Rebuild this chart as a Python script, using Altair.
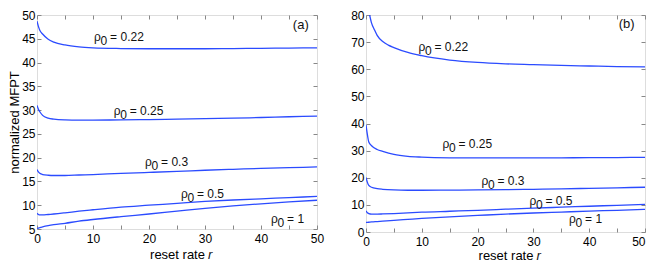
import altair as alt
import pandas as pd

# ---------------- data ----------------
R = [0, 0.25, 0.5, 1, 2, 3, 5, 7.5, 10, 15, 20, 25, 30, 35, 40, 45, 50]

# panel (a)
a_022 = [48.7, 47.6, 46.8, 46.0, 44.9, 44.3, 43.7, 43.3, 43.1, 42.95, 42.9, 42.9, 42.9, 42.95, 43.0, 43.05, 43.1]
a_025 = [31.0, 30.2, 29.65, 28.9, 28.3, 28.1, 27.95, 27.9, 27.9, 27.95, 28.0, 28.1, 28.2, 28.3, 28.45, 28.6, 28.75]
a_03 = [17.5, 17.0, 16.7, 16.45, 16.3, 16.25, 16.25, 16.35, 16.45, 16.7, 16.9, 17.1, 17.35, 17.55, 17.75, 17.9, 18.05]
a_05 = [8.3, 8.05, 7.95, 7.95, 8.05, 8.15, 8.4, 8.75, 9.05, 9.6, 10.0, 10.4, 10.8, 11.1, 11.35, 11.6, 11.85]
a_1 = [5.1, 5.2, 5.3, 5.45, 5.7, 5.9, 6.2, 6.65, 7.0, 7.6, 8.15, 8.75, 9.35, 9.85, 10.3, 10.7, 11.05]

# panel (b)
R_B022 = [0.65, 1, 1.5, 2, 3, 4, 5, 7.5, 10, 15, 20, 25, 30, 35, 40, 45, 50]
b_022 = [80, 77, 74.6, 72.5, 70.2, 68.9, 68.0, 66.2, 65.0, 63.4, 62.5, 62.0, 61.7, 61.4, 61.2, 61.0, 60.85]
b_025 = [39.5, 35.9, 33.2, 31.8, 30.4, 29.7, 28.6, 27.9, 27.6, 27.35, 27.3, 27.3, 27.3, 27.35, 27.4, 27.45, 27.5]
b_03 = [20.1, 18.3, 17.2, 16.5, 16.0, 15.75, 15.5, 15.4, 15.4, 15.45, 15.5, 15.6, 15.75, 15.9, 16.1, 16.3, 16.5]
b_05 = [7.8, 7.1, 6.8, 6.6, 6.6, 6.65, 6.8, 7.05, 7.3, 7.65, 8.0, 8.4, 8.8, 9.15, 9.5, 9.85, 10.2]
b_1 = [3.5, 3.55, 3.6, 3.7, 3.85, 4.0, 4.3, 4.65, 5.0, 5.6, 6.1, 6.6, 7.0, 7.35, 7.7, 8.0, 8.35]

RHO = ["0.22", "0.25", "0.3", "0.5", "1"]
lab_a_r = [10.2, 13.7, 19.3, 25.7, 41.8]
lab_a_v = [45.3, 29.8, 19.15, 12.4, 7.2]
lab_b_r = [9.4, 13.7, 20.7, 29.3, 36.4]
lab_b_v = [68.2, 32.5, 18.9, 11.6, 4.7]

X_TICKS = [0, 5, 10, 15, 20, 25, 30, 35, 40, 45, 50]
YA_TICKS = [5, 10, 15, 20, 25, 30, 35, 40, 45, 50]
YB_TICKS = [0, 10, 20, 30, 40, 50, 60, 70, 80]

TAGS = ["(a)", "(b)"]
tag_r = [47.1, 46.7]
tag_v = [47.8, 76.7]

X_TITLE = "reset rate"
X_TITLE_VAR = ["r"]

# ---------------- build tables ----------------
def lines_table(rs_list, vs_list):
    rows = []
    for rho, rs, vs in zip(RHO, rs_list, vs_list):
        for r, v in zip(rs, vs):
            rows.append({"r": r, "v": v, "rho": rho})
    return pd.DataFrame(rows)

df_a = lines_table([R] * 5, [a_022, a_025, a_03, a_05, a_1])
df_b = lines_table([R_B022, R, R, R, R], [b_022, b_025, b_03, b_05, b_1])

lab_a = pd.DataFrame({"r": lab_a_r, "v": lab_a_v, "rho": RHO,
                      "rest": ["= " + s for s in RHO]})
lab_b = pd.DataFrame({"r": lab_b_r, "v": lab_b_v, "rho": RHO,
                      "rest": ["= " + s for s in RHO]})

FONT = "Liberation Sans"
BLUE = "#2b4bff"
TICK = 4


def panel(df, lab, tag_i, ydom, yticks, ytitle, w, h, x_title_pad, flush_last, r_dy):
    xs = alt.Scale(domain=[0, 50], nice=False, zero=False)
    ys = alt.Scale(domain=ydom, nice=False, zero=False)
    x_kw = dict(values=X_TICKS,
                labelExpr="datum.value % 10 == 0 ? datum.label : ''",
                offset=-TICK, tickSize=TICK, domain=False, grid=False,
                labelFlush=False, labelPadding=4, labelFontSize=12,
                title=X_TITLE, titleFontSize=13, titlePadding=x_title_pad,
                titleFontWeight="normal")
    if flush_last:
        x_kw["labelAlign"] = alt.expr("datum.value == 50 ? 'right' : 'center'")
    xaxis = alt.Axis(**x_kw)
    yaxis_kw = dict(values=yticks, offset=-TICK, tickSize=TICK, domain=False,
                    grid=False, labelPadding=2, labelFontSize=12,
                    titleFontSize=13, titlePadding=0, titleFontWeight="normal")
    if ytitle:
        yaxis = alt.Axis(title=ytitle, **yaxis_kw)
    else:
        yaxis = alt.Axis(title=None, **yaxis_kw)
    top_axis = alt.Axis(orient="top", values=X_TICKS, offset=-TICK, tickSize=TICK,
                        domain=False, grid=False, labels=False, title=None)
    right_axis = alt.Axis(orient="right", values=yticks, offset=-TICK, tickSize=TICK,
                          domain=False, grid=False, labels=False, title=None)

    lines = alt.Chart(df).mark_line(
        interpolate="monotone", clip=True, strokeWidth=1.3, color=BLUE
    ).encode(
        x=alt.X("r:Q", scale=xs, axis=xaxis),
        y=alt.Y("v:Q", scale=ys, axis=yaxis),
        detail="rho:N",
    )
    ghost = alt.Chart(df).mark_line(strokeOpacity=0, clip=True).encode(
        x=alt.X("r:Q", scale=xs, axis=top_axis),
        y=alt.Y("v:Q", scale=ys, axis=right_axis),
        detail="rho:N",
    )
    enc = dict(x=alt.X("r:Q", scale=xs, axis=None),
               y=alt.Y("v:Q", scale=ys, axis=None))
    t_rho = alt.Chart(lab).mark_text(
        text="ρ", align="left", baseline="middle", font=FONT, fontSize=12, color="#111"
    ).encode(**enc)
    t_sub = alt.Chart(lab).mark_text(
        text="0", align="left", baseline="middle", font=FONT, fontSize=12,
        color="#111", dx=6.5, dy=4
    ).encode(**enc)
    t_rest = alt.Chart(lab).mark_text(
        align="left", baseline="middle", font=FONT, fontSize=12, color="#111", dx=16
    ).encode(text="rest:N", **enc)
    tag_df = pd.DataFrame({"r": [tag_r[tag_i]], "v": [tag_v[tag_i]], "t": [TAGS[tag_i]]})
    t_tag = alt.Chart(tag_df).mark_text(
        align="center", baseline="middle", font=FONT, fontSize=13, color="#111"
    ).encode(text="t:N", **enc)
    # italic variable "r" that completes the x-axis title
    t_var = alt.Chart(pd.DataFrame({"t": X_TITLE_VAR})).mark_text(
        align="left", baseline="middle", font=FONT, fontSize=13, fontStyle="italic",
        color="#111", clip=False
    ).encode(x=alt.value(w / 2 + 31), y=alt.value(h + r_dy), text="t:N")

    return alt.layer(lines, ghost, t_rho, t_sub, t_rest, t_tag, t_var).resolve_axis(
        x="independent", y="independent"
    ).properties(width=w, height=h)


pa = panel(df_a, lab_a, 0, [5, 50], YA_TICKS, "normalized MFPT", 280, 214, 4, False, 26)
pb = panel(df_b, lab_b, 1, [0, 80], YB_TICKS, None, 279, 217, 2, True, 24)

chart = alt.hconcat(pa, pb, spacing=49, bounds="flush").properties(
    padding={"left": 0, "top": 0, "right": 0, "bottom": 0}
).configure_view(
    stroke="#555555", strokeWidth=1
).configure_axis(
    labelFont=FONT, titleFont=FONT, labelColor="#3a3a3a", titleColor="#111111",
    tickColor="#555555", tickWidth=1
).configure(background="white")

chart.save("out.html", embed_options={"renderer": "svg", "actions": False})
